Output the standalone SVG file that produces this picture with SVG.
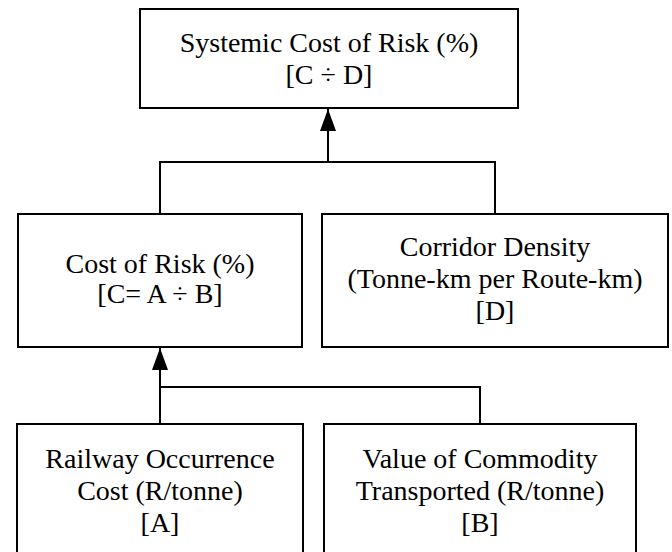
<svg xmlns="http://www.w3.org/2000/svg" width="672" height="552" viewBox="0 0 672 552">
<style>
.box{fill:#fff;stroke:#000;stroke-width:2}
.t{font-family:"Liberation Serif","Times New Roman",serif;font-size:28px;fill:#000;text-anchor:middle}
.c{fill:none;stroke:#000;stroke-width:2}
</style>
<defs>
<marker id="ah" markerWidth="22" markerHeight="16" viewBox="0 0 22 16" refX="22" refY="8" orient="auto" markerUnits="userSpaceOnUse">
<path d="M0,0 L22,8 L0,16 Z" fill="#000"/>
</marker>
</defs>
<g id="connectors">
<polyline class="c" points="160,214 160,162 495,162 495,214"/>
<line class="c" x1="328" y1="162" x2="328" y2="109" marker-end="url(#ah)"/>
<polyline class="c" points="480,424 480,387 160,387"/>
<line class="c" x1="160" y1="424" x2="160" y2="348" marker-end="url(#ah)"/>
</g>
<g id="systemic">
<rect class="box" x="140" y="9" width="378" height="99"/>
<text class="t" x="329" y="52">Systemic Cost of Risk (%)</text>
<text class="t" x="329" y="84">[C ÷ D]</text>
</g>
<g id="costrisk">
<rect class="box" x="18" y="214" width="284" height="133"/>
<text class="t" x="160" y="273">Cost of Risk (%)</text>
<text class="t" x="160" y="303">[C= A ÷ B]</text>
</g>
<g id="corridor">
<rect class="box" x="322" y="214" width="346" height="133"/>
<text class="t" x="495" y="256">Corridor Density</text>
<text class="t" x="495" y="288">(Tonne-km per Route-km)</text>
<text class="t" x="495" y="320">[D]</text>
</g>
<g id="railway">
<rect class="box" x="17" y="424" width="286" height="140"/>
<text class="t" x="160" y="468">Railway Occurrence</text>
<text class="t" x="160" y="500">Cost (R/tonne)</text>
<text class="t" x="160" y="532">[A]</text>
</g>
<g id="value">
<rect class="box" x="324" y="424" width="312" height="140"/>
<text class="t" x="480" y="468">Value of Commodity</text>
<text class="t" x="480" y="500">Transported (R/tonne)</text>
<text class="t" x="480" y="532">[B]</text>
</g>
</svg>
